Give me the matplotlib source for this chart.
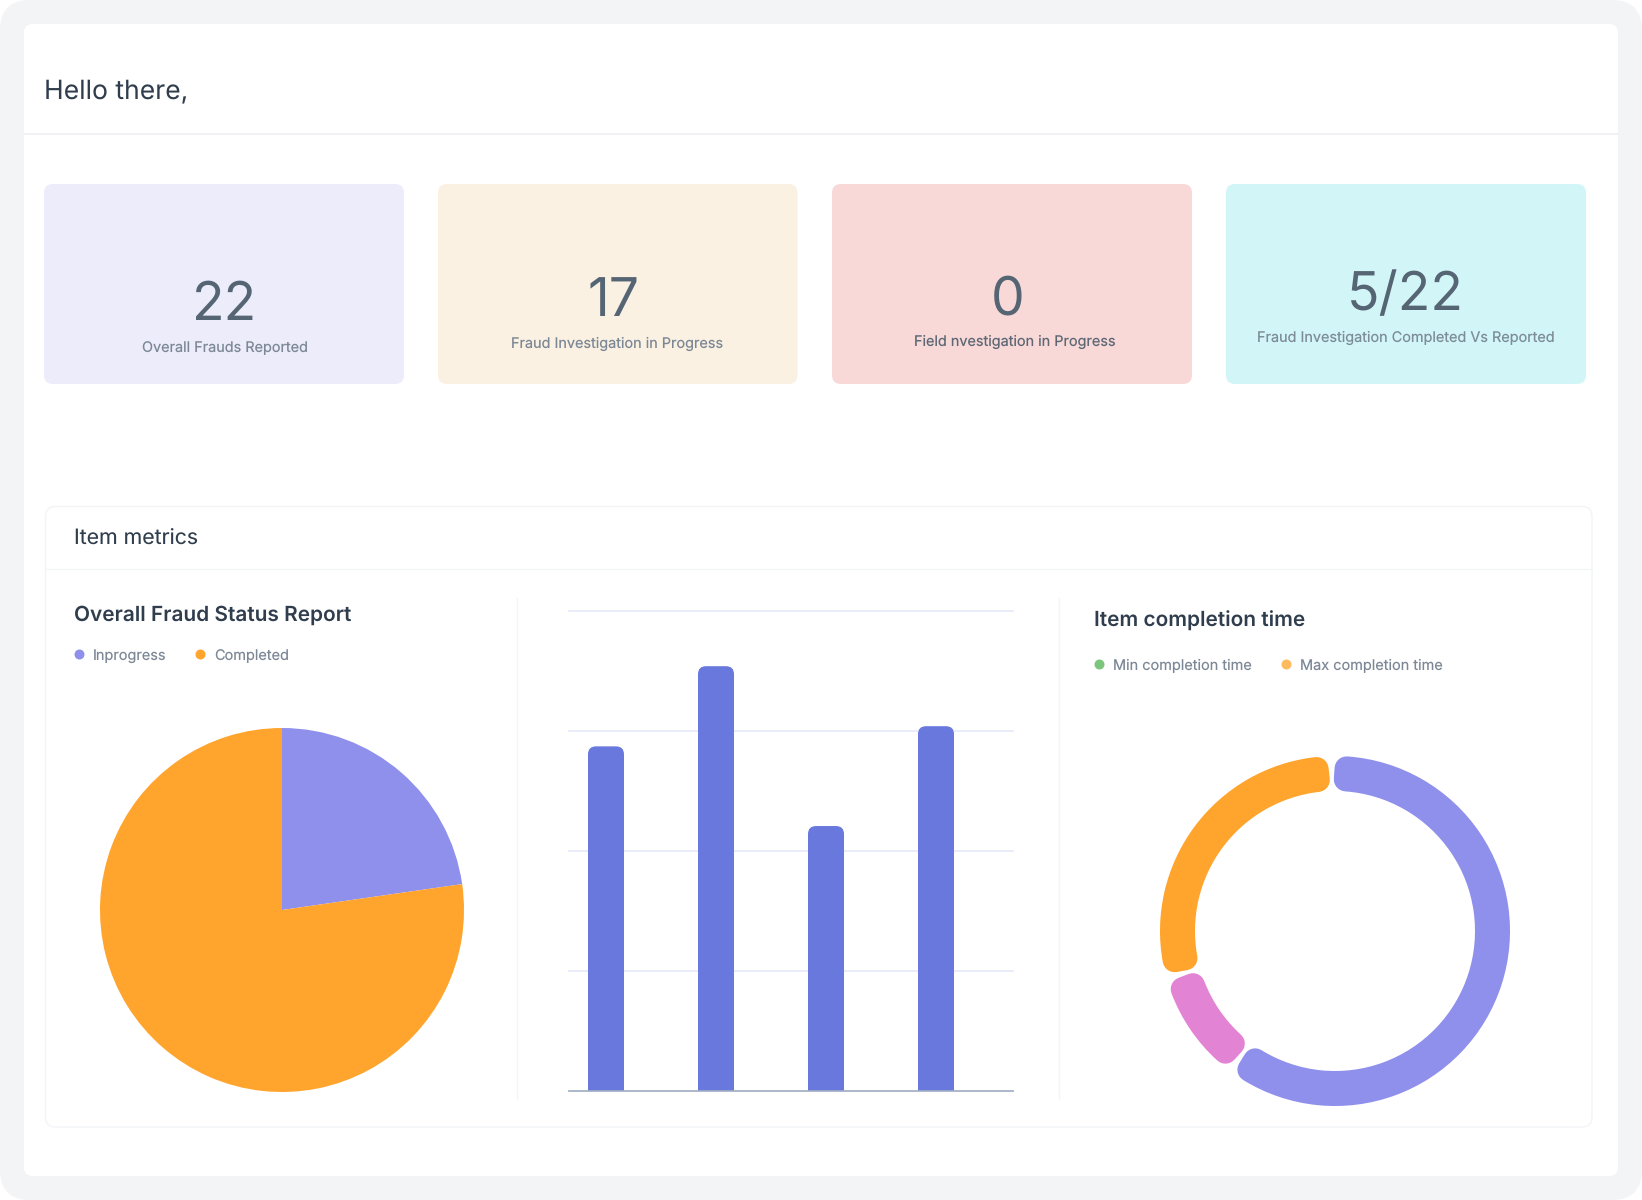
import numpy as np
import matplotlib
matplotlib.use("Agg")
import matplotlib.pyplot as plt
from matplotlib.patches import FancyBboxPatch

plt.rcParams['font.family'] = ['Inter', 'DejaVu Sans']
plt.rcParams['text.hinting'] = 'no_hinting'

W, H = 1642, 1200

card_values = ["22", "17", "0", "5/22"]
card_labels = ["Overall Frauds Reported", "Fraud Investigation in Progress",
               "Field nvestigation in Progress", "Fraud Investigation Completed Vs Reported"]
card_colors = ["#ECECFA", "#FAF1E2", "#F8D9D7", "#D2F6F8"]
label_colors = ["#7D8896", "#7D8896", "#5E6875", "#7D8C98"]

pie_labels = ["Inprogress", "Completed"]
pie_values = [5, 17]
pie_colors = ["#8F8FEC", "#FFA42D"]

bar_values = [71.8, 88.5, 55.2, 76]
bar_ticks = [0, 25, 50, 75, 100]
bar_color = "#6878DC"

donut_labels = ["Min completion time", "Max completion time"]
donut_legend_colors = ["#7CC57C", "#FDBB60"]
donut_values = [60.6, 10.4, 29.0]
donut_colors = ["#8F8FEC", "#E283D3", "#FFA42D"]

fig = plt.figure(figsize=(W / 100, H / 100), dpi=100, facecolor="white")
bg = fig.add_axes([0, 0, 1, 1])
bg.set_xlim(0, W)
bg.set_ylim(H, 0)
bg.axis("off")


def rrect(x0, y0, x1, y1, r, fc, ec="none", lw=0, z=1):
    bg.add_patch(FancyBboxPatch((x0, y0), x1 - x0, y1 - y0,
                                boxstyle=f"round,pad=0,rounding_size={r}",
                                fc=fc, ec=ec, lw=lw, zorder=z))


def sub_axes(x0, y0, x1, y1):
    return fig.add_axes([x0 / W, 1 - y1 / H, (x1 - x0) / W, (y1 - y0) / H])


DARK = "#2F3D4D"
rrect(0, 0, W, H, 30, "#F3F4F6", z=0)
rrect(24, 24, 1618, 1176, 9, "white", z=1)
bg.plot([24, 1618], [134, 134], color="#F0F1F4", lw=1.4, zorder=2)

# stat cards
card_x = [(44, 404), (438, 797.5), (832, 1192), (1226, 1586)]
num_pos = [(224.5, 320), (613.5, 316), (1007.5, 314), (1405, 310)]
lab_pos = [(224.5, 352), (617.5, 348), (1014.5, 346), (1406, 342)]
for i, (x0, x1) in enumerate(card_x):
    rrect(x0, 184, x1, 384, 9, card_colors[i], z=2)
    bg.text(*num_pos[i], card_values[i], fontsize=38.5, fontweight="normal", color="#566573",
            ha="center", va="baseline", zorder=3)
    bg.text(*lab_pos[i], card_labels[i], fontsize=10.4, color=label_colors[i],
            ha="center", va="baseline", zorder=3)

bg.text(44.5, 98, "Hello there,", fontsize=19.1, color=DARK, va="baseline", zorder=3)

# metrics panel
rrect(45.5, 506.5, 1592, 1127, 10, "white", ec="#F3F4F7", lw=1, z=2)
bg.plot([46, 1592], [568.5, 568.5], color="#F4F5F8", lw=1, zorder=3)
bg.plot([516.5, 516.5], [598, 1099], color="#F3F5F8", lw=1, zorder=3)
bg.plot([1059, 1059], [598, 1099], color="#F3F5F8", lw=1, zorder=3)
bg.text(73.5, 544.5, "Item metrics", fontsize=15.3, color=DARK, va="baseline", zorder=3)

# left: pie
bg.text(73.5, 621, "Overall Fraud Status Report", fontsize=15, fontweight="semibold",
        color=DARK, va="baseline", zorder=3)
for lx, tx, name, col in zip([78.5, 199.5], [92.7, 214], pie_labels, pie_colors):
    bg.plot([lx], [654], "o", ms=7.2, mew=0, color=col, zorder=3)
    bg.text(tx, 660, name, fontsize=10.45, color="#7D8896", va="baseline", zorder=3)

ax_pie = sub_axes(100, 728, 464, 1092)
ax_pie.pie(pie_values, colors=pie_colors, startangle=90, counterclock=False, radius=1)
ax_pie.set_xlim(-1, 1)
ax_pie.set_ylim(-1, 1)

# middle: bars
ax_bar = sub_axes(569, 611, 1013, 1091)
ax_bar.patch.set_alpha(0)
bar_pos = np.arange(len(bar_values))
bars = ax_bar.bar(bar_pos, bar_values, width=36 / 110, color=bar_color, zorder=3)
ax_bar.set_xlim(-37 / 110, 3 + 77 / 110)
ax_bar.set_ylim(0, 100)
ax_bar.set_yticks(bar_ticks)
ax_bar.set_xticks([])
ax_bar.tick_params(left=False, labelleft=False)
ax_bar.grid(axis="y", color="#E9EDFA", lw=1.4, zorder=1)
for gl in ax_bar.get_ygridlines():
    gl.set_clip_on(False)
for s in ("top", "left", "right"):
    ax_bar.spines[s].set_visible(False)
ax_bar.spines["bottom"].set_color("#A3AFC2")
ax_bar.spines["bottom"].set_linewidth(1.2)
ax_bar.spines["bottom"].set_zorder(4)
x_px = 110
y_px = 480 / 100
for b in bars:
    clip = FancyBboxPatch((b.get_x(), -10), b.get_width(), b.get_height() + 10,
                          boxstyle=f"round,pad=0,rounding_size={8 / x_px}",
                          mutation_aspect=x_px / y_px, transform=ax_bar.transData)
    b.set_clip_path(clip)

# right: donut
bg.text(1094, 626.5, "Item completion time", fontsize=15, fontweight="semibold",
        color=DARK, va="baseline", zorder=3)
for lx, tx, name, col in zip([1098.5, 1286], [1113, 1300.5], donut_labels, donut_legend_colors):
    bg.plot([lx], [664], "o", ms=7.2, mew=0, color=col, zorder=3)
    bg.text(tx, 670, name, fontsize=10.45, color="#7D8896", va="baseline", zorder=3)

R, RING, CORNER, GAP = 175, 35, 12, 5
ax_don = sub_axes(1335 - R, 931 - R, 1335 + R, 931 + R)
wedges, _ = ax_don.pie(donut_values, colors=donut_colors, startangle=91.2, counterclock=False,
                       radius=(R - CORNER) / R,
                       wedgeprops=dict(width=(RING - 2 * CORNER) / R, lw=CORNER * 2 * 0.72,
                                       joinstyle="round"))
inset = np.degrees((CORNER + GAP / 2) / (R - RING / 2))
for w in wedges:
    w.set_edgecolor(w.get_facecolor())
    w.set_theta1(w.theta1 + inset)
    w.set_theta2(w.theta2 - inset)
ax_don.set_xlim(-1, 1)
ax_don.set_ylim(-1, 1)

fig.savefig("out.png", dpi=100)
